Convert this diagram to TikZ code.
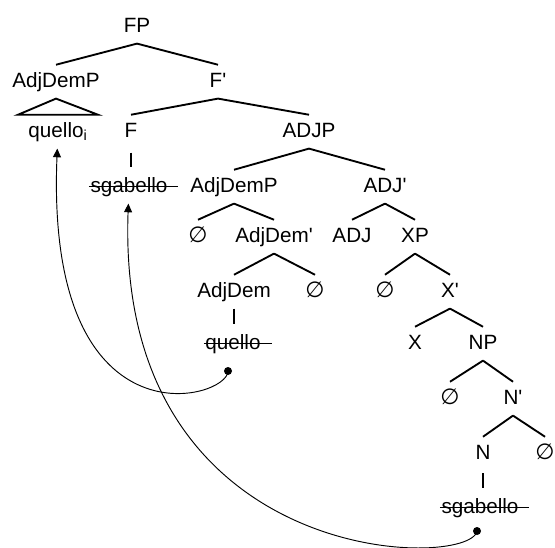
\documentclass[tikz,border=0pt]{standalone}
\usepackage{fontspec}
\setmainfont{Liberation Sans}
\newfontfamily\symfont{DejaVu Sans}
\usetikzlibrary{arrows.meta}

% empty category
\newcommand{\nul}{{\symfont\fontsize{16.5}{18}\selectfont ∅}}

\begin{document}
\begin{tikzpicture}[x=0.75pt,y=-0.75pt]
        \tikzstyle{cat} = [anchor=base, font=\fontsize{15.5}{18}\selectfont, text height=11.5pt, text depth=3.5pt, inner xsep=1pt, inner ysep=5pt]
        \tikzstyle{branch} = [line width=1.4pt]
        \tikzstyle{struck} = [cat, append after command={([yshift=4.2pt]\tikzlastnode.base west) edge[line width=0.8pt] ([xshift=7pt,yshift=4.2pt]\tikzlastnode.base east)}]
        \tikzstyle{trace} = [fill=black, circle, inner sep=0pt, minimum size=6pt]
        \tikzstyle{move} = [line width=0.7pt, -{Triangle[width=6pt,length=6.5pt]}]

        \useasboundingbox (0,0) rectangle (555,547);

        % upper part of the tree
        \node[cat] (FP) at (137,32) {FP};
        \node[cat] (AdjDemP) at (56,87) {AdjDemP};
        \node[cat] (F1) at (218,87) {F\textquotesingle};
        \node[cat] (quelloi) at (58,137) {quello\textsubscript{i}};
        \node[cat] (F) at (131,137) {F};
        \node[cat] (ADJP) at (309,137) {ADJP};
        \node[struck] (sgab) at (129,192) {sgabello};
        \node[cat] (AdjDemP2) at (234,192) {AdjDemP};
        \node[cat] (ADJ1) at (385,192) {ADJ\textquotesingle};

        % AdjDemP and ADJ' subtrees
        \node[cat] (nul1) at (198,242) {\nul};
        \node[cat] (AdjDem1) at (274,242) {AdjDem\textquotesingle};
        \node[cat] (ADJ) at (352,242) {ADJ};
        \node[cat] (XP) at (415,242) {XP};
        \node[cat] (AdjDem) at (234,297) {AdjDem};
        \node[cat] (nul2) at (315,297) {\nul};
        \node[cat] (nul3) at (385,297) {\nul};
        \node[cat] (X1) at (450,297) {X\textquotesingle};
        \node[struck] (quello) at (233,349) {quello};
        \node[cat] (X) at (415,349) {X};
        \node[cat] (NP) at (483,349) {NP};

        % NP
        \node[cat] (nul4) at (450,404) {\nul};
        \node[cat] (N1) at (513,404) {N\textquotesingle};
        \node[cat] (N) at (483,459) {N};
        \node[cat] (nul5) at (545,459) {\nul};
        \node[struck] (sgabN) at (480,513) {sgabello};

        \foreach \p/\c in {FP/AdjDemP, FP/F1, F1/F, F1/ADJP, ADJP/AdjDemP2, ADJP/ADJ1,
                AdjDemP2/nul1, AdjDemP2/AdjDem1, ADJ1/ADJ, ADJ1/XP, AdjDem1/AdjDem,
                AdjDem1/nul2, XP/nul3, XP/X1, X1/X, X1/NP, NP/nul4, NP/N1, N1/N, N1/nul5}
            \draw[branch] (\p.south) -- (\c.north);

        % heads over their words
        \draw[branch, shorten <=3pt, shorten >=2pt] (F.south) -- (F.south |- sgab.north);
        \draw[branch, shorten >=2pt] (AdjDem.south) -- (AdjDem.south |- quello.north);
        \draw[branch, shorten <=2pt, shorten >=2pt] (N.south) -- (N.south |- sgabN.north);

        % triangle over quello_i
        \draw[branch] (AdjDemP.south) -- ([xshift=-30pt]quelloi.north) -- ([xshift=30pt]quelloi.north) -- cycle;

        % movement
        \node[trace] (t1) at (228,371) {};
        \node[trace] (t2) at (477,531) {};
        \draw[move] (t1.center) .. controls (228,400) and (45,450) .. (quelloi);
        \draw[move] (t2.center) .. controls (470,570) and (115,570) .. (sgab);

\end{tikzpicture}
\end{document}
